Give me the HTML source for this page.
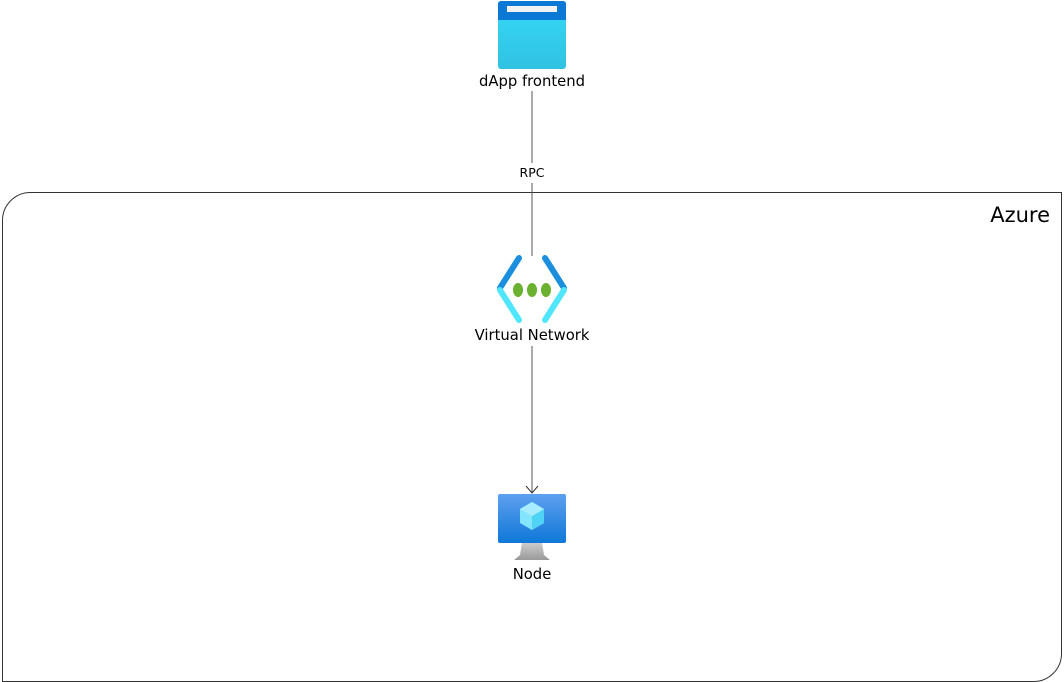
<!DOCTYPE html>
<html><head><meta charset="utf-8"><style>
html,body{margin:0;padding:0;background:#fff;width:1064px;height:682px;overflow:hidden}
</style></head><body>
<svg width="1064" height="682" xmlns="http://www.w3.org/2000/svg" font-family="'DejaVu Sans', sans-serif">
<defs>
<linearGradient id="g1" x1="0" y1="0" x2="0" y2="1"><stop offset="0" stop-color="#37d8f6"/><stop offset="1" stop-color="#30c2e3"/></linearGradient>
<linearGradient id="g2" x1="0" y1="0" x2="0" y2="1"><stop offset="0" stop-color="#5ea0ef"/><stop offset="1" stop-color="#0f78d8"/></linearGradient>
<linearGradient id="g3" x1="0" y1="0" x2="0" y2="1"><stop offset="0" stop-color="#ccc"/><stop offset="1" stop-color="#999"/></linearGradient>
</defs>
<path d="M2.5,221 A28,28 0 0 1 30.5,192.5 L1061.5,192.5 L1061.5,653 A28,28 0 0 1 1033.5,681.5 L2.5,681.5 Z" fill="none" stroke="#333" stroke-width="1"/>
<text x="1050" y="222" font-size="21" text-anchor="end" fill="#000">Azure</text>
<rect x="498" y="1" width="68" height="68" rx="3" fill="url(#g1)"/>
<path d="M498,4 a3,3 0 0 1 3,-3 h62 a3,3 0 0 1 3,3 v16 h-68z" fill="#0a78d4"/>
<rect x="507" y="6" width="50" height="6" fill="#f2f2f2"/>
<text x="532" y="86" font-size="14.8" text-anchor="middle">dApp frontend</text>
<line x1="532" y1="91" x2="532" y2="163" stroke="#555" stroke-width="1"/>
<text x="532" y="177" font-size="12.5" text-anchor="middle">RPC</text>
<line x1="532" y1="183" x2="532" y2="256" stroke="#555" stroke-width="1"/>
<path d="M519,258 L500,288" stroke="#1b8ede" stroke-width="6" stroke-linecap="round"/>
<path d="M500,290 L519,320" stroke="#50e6ff" stroke-width="6" stroke-linecap="round"/>
<path d="M545,258 L564,288" stroke="#1b8ede" stroke-width="6" stroke-linecap="round"/>
<path d="M564,290 L545,320" stroke="#50e6ff" stroke-width="6" stroke-linecap="round"/>
<ellipse cx="518" cy="290" rx="5" ry="7" fill="#6bb130"/>
<ellipse cx="532" cy="290" rx="5" ry="7" fill="#6bb130"/>
<ellipse cx="546" cy="290" rx="5" ry="7" fill="#6bb130"/>
<text x="532" y="340" font-size="14.8" text-anchor="middle">Virtual Network</text>
<line x1="532" y1="346" x2="532" y2="493" stroke="#555" stroke-width="1"/>
<path d="M526,486 L532,493 L538,486" fill="none" stroke="#333" stroke-width="1"/>
<rect x="498" y="494" width="68" height="49" rx="2" fill="url(#g2)"/>
<path d="M522,543 h20 l2,12 l6,5 h-36 l6,-5z" fill="url(#g3)"/>
<polygon points="532,502 544,509 544,523 532,530 520,523 520,509" fill="#83e5ff"/>
<polygon points="532,516 544,509 544,523 532,530" fill="#50d4f5"/>
<polygon points="532,502 544,509 532,516 520,509" fill="#a8ecff"/>
<text x="532" y="579" font-size="14.8" text-anchor="middle">Node</text>
</svg>
</body></html>
